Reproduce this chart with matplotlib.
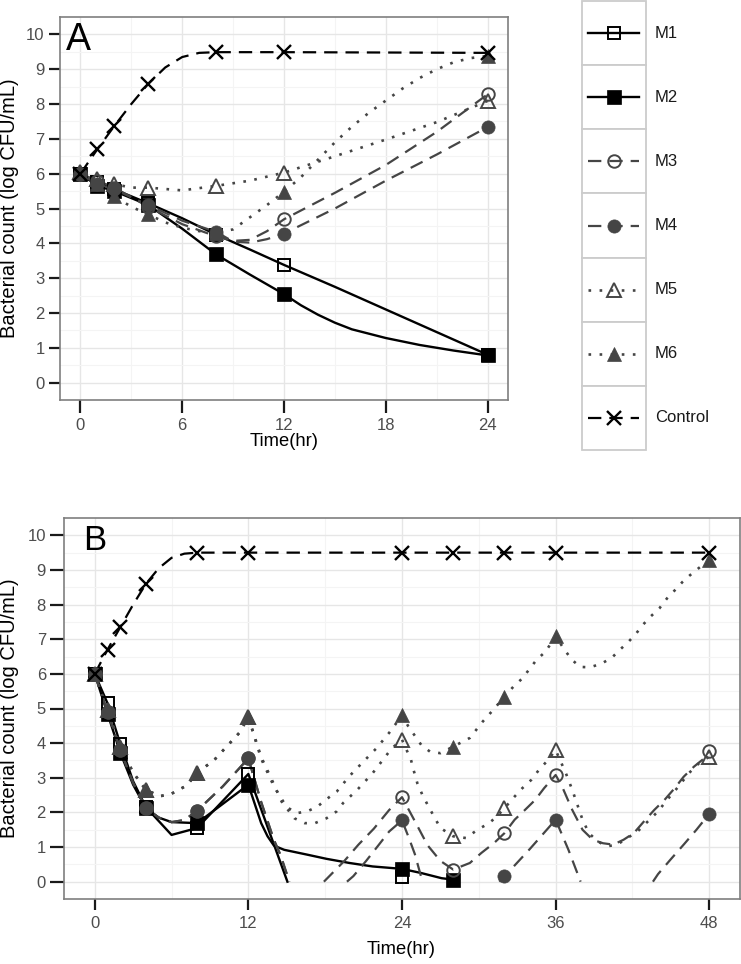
import numpy as np
import matplotlib
matplotlib.use("Agg")
import matplotlib.pyplot as plt
from matplotlib.patches import Rectangle

nan = np.nan

# ---------------- Panel A data ----------------
A_T = [0, 1, 2, 4, 8, 12, 24]
A_M1 = [6.0, 5.75, 5.55, 5.15, 4.25, 3.38, 0.8]
A_M2 = [6.0, 5.65, 5.5, 5.1, 3.68, 2.54, 0.78]
A_M3 = [6.0, 5.8, 5.6, 5.05, 4.2, 4.69, 8.28]
A_M4 = [6.0, 5.7, 5.55, 5.1, 4.33, 4.28, 7.34]
A_M5 = [6.05, 5.85, 5.7, 5.6, 5.65, 6.03, 8.09]
A_M6 = [6.05, 5.7, 5.35, 4.83, 4.3, 5.48, 9.38]
A_CTRL = [6.0, 6.7, 7.37, 8.58, 9.49, 9.49, 9.47]

# fitted curves
A_CTRL_CT = [0, 1, 2, 3, 4, 5, 6, 7, 8, 12, 24]
A_CTRL_CV = [6.0, 6.7, 7.37, 8.0, 8.58, 9.05, 9.35, 9.47, 9.49, 9.49, 9.47]
A_M1_CT = [0, 1, 2, 4, 6, 8, 10, 12, 15, 18, 21, 24]
A_M1_CV = [6.0, 5.75, 5.55, 5.15, 4.72, 4.25, 3.82, 3.38, 2.75, 2.1, 1.45, 0.8]
A_M2_CT = [0, 1, 2, 4, 6, 8, 10, 12, 13, 14, 15, 16, 18, 20, 22, 24]
A_M2_CV = [6.0, 5.65, 5.5, 5.1, 4.42, 3.68, 3.1, 2.54, 2.22, 1.95, 1.72, 1.53, 1.28, 1.08, 0.92, 0.78]
A_M3_CT = [0, 1, 2, 4, 6, 8, 9, 10, 11, 12, 15, 18, 21, 24]
A_M3_CV = [6.0, 5.8, 5.6, 5.05, 4.55, 4.2, 4.07, 4.1, 4.35, 4.69, 5.45, 6.25, 7.2, 8.28]
A_M4_CT = [0, 1, 2, 4, 6, 8, 9, 10, 11, 12, 15, 18, 21, 24]
A_M4_CV = [6.0, 5.7, 5.55, 5.1, 4.65, 4.33, 4.05, 4.02, 4.12, 4.28, 5.0, 5.8, 6.55, 7.34]
A_M5_CT = [0, 1, 2, 3, 4, 6, 8, 10, 12, 15, 18, 21, 24]
A_M5_CV = [6.05, 5.85, 5.7, 5.6, 5.6, 5.52, 5.65, 5.8, 6.03, 6.5, 6.98, 7.48, 8.09]
A_M6_CT = [0, 1, 2, 3, 4, 5, 6, 7, 8, 9, 10, 11, 12, 13, 14, 15, 16, 17, 18, 19, 20, 21, 22, 23, 24]
A_M6_CV = [6.05, 5.7, 5.35, 5.05, 4.83, 4.6, 4.45, 4.35, 4.3, 4.4, 4.75, 5.1, 5.48, 5.9, 6.4, 6.9,
           7.35, 7.75, 8.1, 8.45, 8.75, 9.0, 9.2, 9.32, 9.38]

# ---------------- Panel B data ----------------
B_T = [0, 1, 2, 4, 8, 12, 24, 28, 32, 36, 48]
B_M1 = [6.0, 5.15, 3.97, 2.15, 1.55, 3.11, 0.14, nan, nan, nan, nan]
B_M2 = [6.0, 4.85, 3.72, 2.12, 1.69, 2.8, 0.37, 0.06, nan, nan, nan]
B_M3 = [6.0, 4.9, 3.8, 2.12, 2.05, 3.56, 2.44, 0.35, 1.4, 3.08, 3.76]
B_M4 = [6.0, 4.9, 3.8, 2.12, 2.05, 3.56, 1.77, nan, 0.15, 1.79, 1.96]
B_M5 = [6.0, 4.95, 3.9, 2.65, 3.15, 4.75, 4.1, 1.31, 2.12, 3.8, 3.61]
B_M6 = [6.0, 4.95, 3.9, 2.65, 3.15, 4.75, 4.8, 3.9, 5.34, 7.08, 9.28]
B_CTRL = [6.0, 6.7, 7.35, 8.6, 9.5, 9.5, 9.5, 9.5, 9.5, 9.5, 9.5]

B_CTRL_CT = [0, 1, 2, 3, 4, 5, 6, 7, 8, 12, 24, 28, 32, 36, 48]
B_CTRL_CV = [6.0, 6.7, 7.35, 8.0, 8.6, 9.05, 9.35, 9.47, 9.5, 9.5, 9.5, 9.5, 9.5, 9.5, 9.5]
B_M1_CT = [0, 1, 2, 3, 4, 6, 8, 12, 15.05]
B_M1_CV = [6.0, 5.15, 3.97, 2.9, 2.15, 1.35, 1.55, 3.11, 0.0]
B_M2_CT = [0, 1, 2, 3, 4, 5, 6, 8, 12, 13, 13.5, 14, 14.8, 16.6, 18.1, 19.9, 21.7, 24, 25.5, 27.1, 28]
B_M2_CV = [6.0, 4.85, 3.72, 2.8, 2.12, 1.85, 1.72, 1.69, 2.8, 1.69, 1.31, 1.04, 0.92, 0.78, 0.66,
           0.54, 0.44, 0.37, 0.25, 0.1, 0.06]
B_M3_CT = [0, 1, 2, 3, 4, 5, 6, 7, 8, 10, 12, 13, 14, 14.5, 15.2, nan,
           17.9, 19.5, 20.6, 21.8, 23, 24, 25, 26, 27, 28, 29.3, 30.2, 31.2, 32, 32.8, 33.6, 34.4,
           35.1, 36, 36.5, 37.3, 38.1, 38.9, 39.7, 40.5, 41.3, 42.1, 42.9, 43.7, 44.5, 45.3, 46.0,
           46.8, 47.6, 48]
B_M3_CV = [6.0, 4.9, 3.8, 2.85, 2.12, 1.85, 1.72, 1.78, 2.05, 2.75, 3.56, 2.3, 1.2, 0.78, 0.0, nan,
           0.0, 0.6, 1.07, 1.53, 2.07, 2.44, 1.75, 1.05, 0.6, 0.35, 0.54, 0.83, 1.12, 1.4, 1.79, 2.07,
           2.36, 2.7, 3.08, 2.75, 2.07, 1.5, 1.21, 1.11, 1.07, 1.21, 1.4, 1.74, 2.07, 2.36, 2.7, 3.03,
           3.32, 3.56, 3.76]
B_M4_CT = [0, 1, 2, 3, 4, 5, 6, 7, 8, 10, 12, 13, 14, 14.5, 15.2, nan,
           19.7, 20.2, 21.2, 22.2, 23, 24, 24.5, 25, 25.6, nan,
           31.6, 32, 33, 34, 35, 36, 37, 37.95, nan,
           43.6, 44, 45, 46, 47, 48]
B_M4_CV = [6.0, 4.9, 3.8, 2.85, 2.12, 1.85, 1.72, 1.78, 2.05, 2.75, 3.56, 2.3, 1.2, 0.78, 0.0, nan,
           0.0, 0.16, 0.6, 1.07, 1.45, 1.77, 1.3, 0.8, 0.0, nan,
           0.0, 0.15, 0.55, 0.95, 1.37, 1.79, 0.92, 0.0, nan,
           0.0, 0.22, 0.65, 1.07, 1.5, 1.96]
B_M5_CT = [0, 1, 2, 3, 4, 5.1, 5.9, 7.2, 8, 9.3, 10.3, 11.3, 12, 13, 13.9, 14.6, 15.6, 16.4, 17.2,
           18.1, 18.9, 19.4, 20.5, 21.7, 22.7, 23.2, 24, 24.7, 24.9, 25.2, 25.6, 26.0, 26.5, 27.0,
           28, 29.0, 29.9, 30.8, 31.4, 32, 32.8, 33.4, 34.1, 34.7, 35.3, 36, 36.8, 37.3, 37.7, 38.1,
           38.6, 39.3, 40.0, 40.8, 41.6, 42.4, 43.2, 44.0, 44.7, 45.6, 46.4, 47.2, 48]
B_M5_CV = [6.0, 4.95, 3.9, 3.15, 2.65, 2.47, 2.52, 2.78, 3.15, 3.5, 3.9, 4.3, 4.75, 3.6, 2.89, 2.31,
           1.83, 1.69, 1.69, 1.83, 2.03, 2.27, 2.65, 3.13, 3.61, 3.85, 4.1, 3.52, 3.23, 2.84, 2.5,
           2.22, 1.88, 1.55, 1.31, 1.26, 1.5, 1.69, 1.88, 2.12, 2.46, 2.7, 2.94, 3.23, 3.47, 3.8,
           3.13, 2.65, 2.22, 1.79, 1.4, 1.16, 1.02, 1.07, 1.26, 1.45, 1.74, 2.03, 2.36, 2.75, 3.13,
           3.42, 3.61]
B_M6_CT = [0, 1, 2, 3, 4, 5.1, 5.9, 7.2, 8, 9.3, 10.3, 11.3, 12, 13, 14, 15, 15.8, 16.6, 17.4,
           18.1, 18.9, 19.9, 20.6, 22, 23, 24, 24.5, 25.5, 26.2, 27.0, 28, 29.3, 30.3, 31.1, 32,
           32.7, 33.4, 34.0, 34.5, 35.2, 36, 36.8, 37.3, 37.9, 38.7, 39.6, 40.4, 41.0, 41.7, 42.3,
           42.8, 43.4, 44.1, 44.7, 45.3, 45.9, 46.5, 47.3, 48]
B_M6_CV = [6.0, 4.95, 3.9, 3.15, 2.65, 2.47, 2.52, 2.78, 3.15, 3.5, 3.9, 4.3, 4.75, 3.55, 2.75,
           2.15, 1.98, 2.03, 2.17, 2.38, 2.6, 3.05, 3.32, 3.85, 4.3, 4.8, 4.48, 3.95, 3.75, 3.71,
           3.9, 4.15, 4.62, 4.95, 5.34, 5.63, 5.87, 6.16, 6.4, 6.64, 7.08, 6.64, 6.4, 6.2, 6.19,
           6.3, 6.47, 6.69, 6.93, 7.17, 7.41, 7.65, 7.89, 8.18, 8.41, 8.65, 8.85, 9.09, 9.28]

LABELS = ["M1", "M2", "M3", "M4", "M5", "M6", "Control"]

# ---------------- styles ----------------
GREY = "#454545"
DASH = (0, (6, 3.6))
DOT = (0, (1, 3.2))
LINE_STYLE = {
    "M1": dict(color="black", ls="-", lw=1.7),
    "M2": dict(color="black", ls="-", lw=1.7),
    "M3": dict(color=GREY, ls=DASH, lw=1.6),
    "M4": dict(color=GREY, ls=DASH, lw=1.6),
    "M5": dict(color=GREY, ls=DOT, lw=1.9),
    "M6": dict(color=GREY, ls=DOT, lw=1.9),
    "Control": dict(color="black", ls=DASH, lw=1.6),
}
MARK_STYLE = {
    "M1": dict(marker="s", ms=9, mfc="none", mec="black", mew=1.4),
    "M2": dict(marker="s", ms=9.5, mfc="black", mec="black", mew=0.5),
    "M3": dict(marker="o", ms=9, mfc="none", mec=GREY, mew=1.4),
    "M4": dict(marker="o", ms=9.5, mfc=GREY, mec=GREY, mew=0.5),
    "M5": dict(marker="^", ms=10.5, mfc="none", mec=GREY, mew=1.4),
    "M6": dict(marker="^", ms=10.5, mfc=GREY, mec=GREY, mew=0.5),
    "Control": dict(marker="x", ms=10, mfc="none", mec="black", mew=1.7),
}

FONT = "Liberation Sans"
plt.rcParams["font.family"] = [FONT, "DejaVu Sans"]

W, H = 741, 964
fig = plt.figure(figsize=(W / 100, H / 100), dpi=100)


def fx(px):
    return px / W


def fy(py):
    return 1 - py / H


def style_axes(ax, xmaj, xmin, xlim, xtl, ytl):
    ax.set_xlim(*xlim)
    ax.set_ylim(-0.5, 10.5)
    ax.set_xticks(xmaj)
    ax.set_xticks(xmin, minor=True)
    ax.set_yticks(range(0, 11))
    ax.set_yticks(np.arange(0.5, 10, 1.0), minor=True)
    ax.grid(which="major", color="#E6E6E6", lw=1.0, zorder=0)
    ax.grid(which="minor", color="#F4F4F4", lw=0.8, zorder=0)
    ax.set_axisbelow(True)
    for s in ax.spines.values():
        s.set_color("#7F7F7F")
        s.set_linewidth(1.2)
    ax.tick_params(which="minor", length=0)
    ax.tick_params(axis="x", which="major", length=xtl, width=1.6, color="#1A1A1A",
                   labelsize=12, labelcolor="#4D4D4D", pad=4)
    ax.tick_params(axis="y", which="major", length=ytl, width=1.6, color="#1A1A1A",
                   labelsize=12, labelcolor="#4D4D4D", pad=3)


series_A = [
    ("M1", A_M1_CT, A_M1_CV, A_M1), ("M2", A_M2_CT, A_M2_CV, A_M2),
    ("M3", A_M3_CT, A_M3_CV, A_M3), ("M4", A_M4_CT, A_M4_CV, A_M4),
    ("M5", A_M5_CT, A_M5_CV, A_M5), ("M6", A_M6_CT, A_M6_CV, A_M6),
    ("Control", A_CTRL_CT, A_CTRL_CV, A_CTRL),
]
series_B = [
    ("M1", B_M1_CT, B_M1_CV, B_M1), ("M2", B_M2_CT, B_M2_CV, B_M2),
    ("M3", B_M3_CT, B_M3_CV, B_M3), ("M4", B_M4_CT, B_M4_CV, B_M4),
    ("M5", B_M5_CT, B_M5_CV, B_M5), ("M6", B_M6_CT, B_M6_CV, B_M6),
    ("Control", B_CTRL_CT, B_CTRL_CV, B_CTRL),
]


def draw(ax, series, t):
    for name, ct, cv, _ in series:
        ax.plot(ct, cv, zorder=2, **LINE_STYLE[name])
    for name, _, _, v in series:
        ax.plot(t, v, ls="none", zorder=3, **MARK_STYLE[name])


# ---------------- Panel A ----------------
axA = fig.add_axes([fx(60), fy(400), 448 / W, 383 / H])
style_axes(axA, [0, 6, 12, 18, 24], [3, 9, 15, 21], (-1.2, 25.2), 9, 8)
draw(axA, series_A, A_T)
fig.text(fx(66), fy(50), "A", fontsize=27, ha="left", va="baseline")
fig.text(fx(10), fy(208), "Bacterial count (log CFU/mL)", rotation=90,
         ha="center", va="center", fontsize=14.5)
fig.text(fx(284), fy(442), "Time(hr)", ha="center", va="center", fontsize=13.2)

# ---------------- Panel B ----------------
axB = fig.add_axes([fx(64), fy(899), 676 / W, 381 / H])
style_axes(axB, [0, 12, 24, 36, 48], [6, 18, 30, 42], (-2.4, 50.4), 8, 10)
draw(axB, series_B, B_T)
fig.text(fx(83), fy(550), "B", fontsize=25, ha="left", va="baseline")
fig.text(fx(10), fy(708), "Bacterial count (log CFU/mL)", rotation=90,
         ha="center", va="center", fontsize=14.5)
fig.text(fx(401), fy(950), "Time(hr)", ha="center", va="center", fontsize=13.2)

# ---------------- Legend ----------------
top, bot = 1, 450
axL = fig.add_axes([fx(582), fy(bot), 64 / W, (bot - top) / H])
axL.set_xlim(0, 1)
axL.set_ylim(0, len(LABELS))
axL.axis("off")
key_h = (bot - top) / len(LABELS)
for i, name in enumerate(LABELS):
    y0 = len(LABELS) - 1 - i
    axL.add_patch(Rectangle((0, y0), 1, 1, fc="white", ec="#CCCCCC", lw=1.3, clip_on=False))
    yc = y0 + 0.5
    axL.plot([0.1, 0.89], [yc, yc], clip_on=False, **LINE_STYLE[name])
    axL.plot([0.5], [yc], ls="none", clip_on=False, **MARK_STYLE[name])
    fig.text(fx(655), fy(top + key_h * (i + 0.5)), name, ha="left", va="center",
             fontsize=12, color="#1A1A1A")

fig.savefig("out.png", dpi=100)
